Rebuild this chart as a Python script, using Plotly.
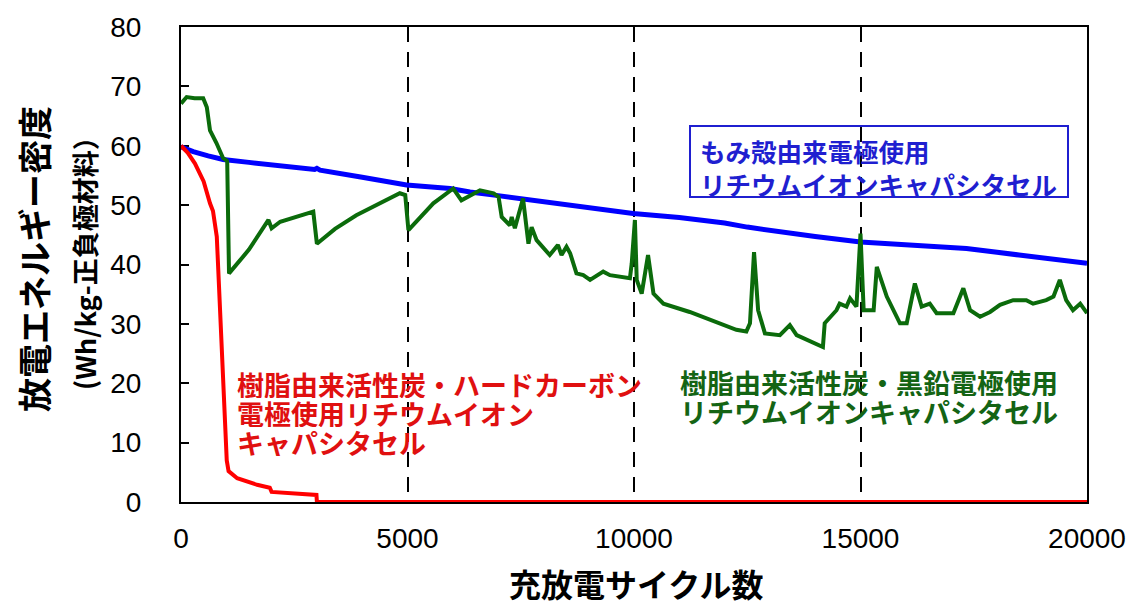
import plotly.graph_objects as go

# Discharge energy density vs. charge/discharge cycles for three capacitor cells
cycles_blue = [0, 270, 600, 930, 1500, 2000, 2500, 2950, 3000, 3070, 4000, 4980,
               5940, 6380, 7000, 8000, 9000, 9980, 11000, 11500, 12000, 12500,
               13000, 14000, 15000, 16000, 17340, 18500, 20000]
energy_blue = [59.8, 59.0, 58.3, 57.7, 57.2, 56.8, 56.4, 56.0, 56.2, 55.9, 54.7, 53.4,
               52.8, 52.2, 51.6, 50.6, 49.6, 48.6, 47.9, 47.5, 47.0, 46.3,
               45.7, 44.7, 43.8, 43.3, 42.7, 41.6, 40.2]

cycles_green = [0, 125, 300, 490, 570, 640, 780, 930, 1010, 1020, 1060, 1500, 1930,
                2000, 2190, 2600, 2920, 3000, 3400, 3870, 4400, 4830, 4950, 5020,
                5570, 6010, 6190, 6600, 6900, 7010, 7080, 7260, 7300, 7370, 7550,
                7670, 7740, 7850, 8140, 8320, 8400, 8510, 8590, 8730, 8880, 9030,
                9320, 9470, 9910, 9950, 10020, 10060, 10170, 10310, 10430, 10650,
                11230, 11750, 12260, 12480, 12560, 12650, 12740, 12890, 13220,
                13440, 13590, 14170, 14210, 14470, 14540, 14690, 14770, 14910,
                15000, 15070, 15290, 15360, 15580, 15870, 16020, 16200, 16350,
                16530, 16680, 17050, 17270, 17420, 17640, 17860, 18080, 18370,
                18660, 18810, 19100, 19260, 19400, 19540, 19690, 19850, 20000]
energy_green = [67.1, 68.2, 68.0, 68.0, 66.5, 62.6, 60.5, 57.9, 57.5, 57.3, 38.5, 42.5, 47.5,
                46.1, 47.2, 48.2, 48.9, 43.5, 46.0, 48.3, 50.3, 52.0, 51.7, 45.8,
                50.3, 52.8, 50.8, 52.5, 52.0, 51.4, 48.0, 46.6, 48.0, 46.1, 51.1,
                43.5, 46.3, 44.1, 41.6, 43.3, 41.6, 43.0, 41.9, 38.5, 38.2, 37.4,
                38.8, 38.2, 37.7, 40.2, 47.5, 37.4, 35.1, 41.6, 35.1, 33.4,
                32.0, 30.4, 29.0, 28.7, 30.1, 42.1, 32.3, 28.4, 28.1,
                29.8, 28.1, 26.1, 30.1, 32.3, 33.4, 32.9, 34.3, 32.9,
                45.2, 32.3, 32.3, 39.6, 34.6, 30.1, 30.1, 36.8, 32.9,
                33.4, 31.8, 31.8, 36.0, 32.3, 31.2, 32.0, 33.2, 34.0,
                34.0, 33.4, 34.0, 34.6, 37.4, 34.0, 32.3, 33.4, 31.8]

cycles_red = [0, 150, 309, 500, 640, 706, 790, 860, 935, 1010, 1050, 1240, 1680,
              1960, 2000, 2500, 2990, 3000, 20000]
energy_red = [60.0, 58.8, 57.0, 54.0, 50.3, 49.0, 44.7, 33.0, 17.7, 7.0, 5.2, 4.0, 2.9,
              2.4, 1.7, 1.4, 1.2, 0.0, 0.0]

x_ticks = [0, 5000, 10000, 15000, 20000]
y_ticks = [0, 10, 20, 30, 40, 50, 60, 70, 80]

label_blue = ["もみ殻由来電極使用", "リチウムイオンキャパシタセル"]
label_red = ["樹脂由来活性炭・ハードカーボン", "電極使用リチウムイオン", "キャパシタセル"]
label_green = ["樹脂由来活性炭・黒鉛電極使用", "リチウムイオンキャパシタセル"]

JP = "Noto Sans CJK JP"
BLUE, GREEN, RED = "#0000ff", "#0b6b0b", "#ff0000"

fig = go.Figure()
fig.add_trace(go.Scatter(x=cycles_blue, y=energy_blue, mode="lines",
                         line=dict(color=BLUE, width=5), showlegend=False))
fig.add_trace(go.Scatter(x=cycles_green, y=energy_green, mode="lines",
                         line=dict(color=GREEN, width=4), showlegend=False))
fig.add_trace(go.Scatter(x=cycles_red, y=energy_red, mode="lines",
                         line=dict(color=RED, width=4), showlegend=False))

fig.update_layout(
    width=1133, height=607,
    margin=dict(l=181, r=46, t=27, b=105),
    paper_bgcolor="white", plot_bgcolor="white",
    font=dict(family="Liberation Sans, Arial", color="black", size=28),
)
fig.update_xaxes(
    range=[0, 20000], tickvals=x_ticks, ticktext=[str(v) for v in x_ticks],
    showline=True, linecolor="black", linewidth=2, mirror=True,
    showgrid=True, gridcolor="black", gridwidth=2, griddash="15px,10px",
    ticks="", zeroline=False, layer="below traces", automargin=False,
    tickfont=dict(size=28), ticklabelstandoff=10,
)
fig.update_yaxes(
    range=[0, 80], tickvals=y_ticks,
    showline=True, linecolor="black", linewidth=2, mirror=True,
    showgrid=False, ticks="inside", ticklen=8, tickwidth=2, tickcolor="black",
    zeroline=False, layer="below traces", automargin=False,
    tickfont=dict(size=28), ticklabelstandoff=32,
)

annotations = []

plot_w, plot_h = 1133 - 181 - 46, 607 - 27 - 105


def px_x(px):
    return (px - 181) / plot_w


def px_y(py):
    return (502 - py) / plot_h


def text_lines(lines, x0, y0, step, color, size):
    for i, t in enumerate(lines):
        annotations.append(dict(
            text=f"<b>{t}</b>", xref="paper", yref="paper", x=x0, y=y0 - i * step,
            xanchor="left", yanchor="middle", showarrow=False, align="left",
            height=step * plot_h - 1, borderpad=0,
            font=dict(family=JP, size=size, color=color)))


text_lines(label_blue, px_x(699), px_y(151), 32 / plot_h, "#1f1fd0", 25.5)
text_lines(label_red, px_x(236), px_y(384), 29 / plot_h, "#e01010", 27)
text_lines(label_green, px_x(679), px_y(382), 29 / plot_h, "#146414", 27)

# axis titles
annotations.append(dict(
    text="<b>放電エネルギー密度</b>", xref="paper", yref="paper",
    x=px_x(33), y=px_y(259), xanchor="center", yanchor="middle", textangle=-90,
    showarrow=False, font=dict(family=JP, size=34, color="black")))
annotations.append(dict(
    text="<b>(Wh/kg-正負極材料）</b>", xref="paper", yref="paper",
    x=px_x(84), y=px_y(257), xanchor="center", yanchor="middle", textangle=-90,
    showarrow=False, font=dict(family=JP, size=27, color="black")))
annotations.append(dict(
    text="<b>充放電サイクル数</b>", xref="paper", yref="paper",
    x=px_x(636), y=px_y(583), xanchor="center", yanchor="middle",
    showarrow=False, borderpad=0, height=36,
    font=dict(family=JP, size=32, color="black")))

fig.update_layout(annotations=annotations)

# frame around the blue label
fig.add_shape(type="rect", xref="paper", yref="paper",
              x0=px_x(690), x1=px_x(1068), y0=px_y(197), y1=px_y(126),
              line=dict(color="#1f1fd0", width=2), fillcolor="rgba(0,0,0,0)")

fig.write_html("out.html")
